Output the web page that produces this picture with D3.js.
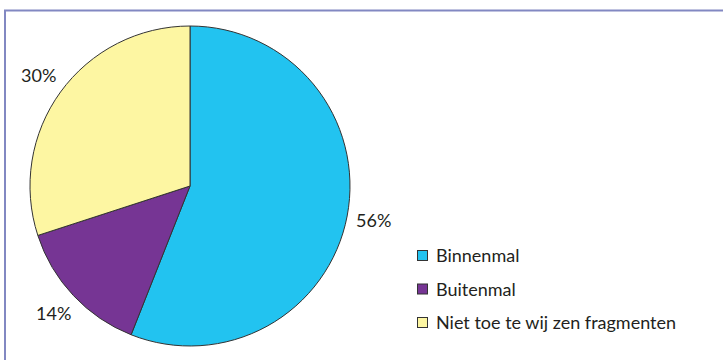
<!DOCTYPE html>
<html>
<head>
<meta charset="utf-8">
<script src="https://cdn.jsdelivr.net/npm/d3@7/dist/d3.min.js"></script>
<style>
  html, body { margin: 0; padding: 0; background: #fff; }
  svg { display: block; }
</style>
</head>
<body>
<svg id="chart" width="723" height="360"></svg>
<script>
const categories = ["Binnenmal", "Buitenmal", "Niet toe te wij zen fragmenten"];
const values = [56, 14, 30];
const colors = ["#22c3f0", "#763594", "#fdf6a2"];

const svg = d3.select("#chart");

// frame lines along the top and left
svg.append("path")
  .attr("d", "M5,360 V10.5 H723")
  .attr("fill", "none")
  .attr("stroke", "#8288c2")
  .attr("stroke-width", 2);

const cx = 190, cy = 186, r = 160;
const data = categories.map((c, i) => ({ name: c, value: values[i], color: colors[i] }));

const pie = d3.pie().value(d => d.value).sort(null);
const arc = d3.arc().innerRadius(0).outerRadius(r);
const labelArc = d3.arc().innerRadius(187).outerRadius(187);

const g = svg.append("g").attr("transform", `translate(${cx},${cy})`);
const arcs = pie(data);

g.selectAll("path.slice")
  .data(arcs)
  .join("path")
  .attr("class", "slice")
  .attr("d", arc)
  .attr("fill", d => d.data.color)
  .attr("stroke", "#333")
  .attr("stroke-width", 1);

g.selectAll("text.pct")
  .data(arcs)
  .join("text")
  .attr("class", "pct")
  .attr("transform", d => `translate(${labelArc.centroid(d)})`)
  .attr("text-anchor", "middle")
  .attr("dy", "0.35em")
  .attr("font-family", "Lato, 'Open Sans', sans-serif")
  .attr("font-size", 18)
  .attr("fill", "#231f20")
  .text(d => d.data.value + "%");

// legend
const legend = svg.append("g").attr("transform", "translate(417,256)");
const items = legend.selectAll("g")
  .data(data)
  .join("g")
  .attr("transform", (d, i) => `translate(0,${i * 33.5})`);

items.append("rect")
  .attr("x", 0.5).attr("y", -5.5)
  .attr("width", 10).attr("height", 10)
  .attr("fill", d => d.color)
  .attr("stroke", "#333")
  .attr("stroke-width", 1);

items.append("text")
  .attr("x", 19)
  .attr("dy", "0.35em")
  .attr("font-family", "Lato, 'Open Sans', sans-serif")
  .attr("font-size", 18)
  .attr("fill", "#231f20")
  .text(d => d.name);
</script>
</body>
</html>
